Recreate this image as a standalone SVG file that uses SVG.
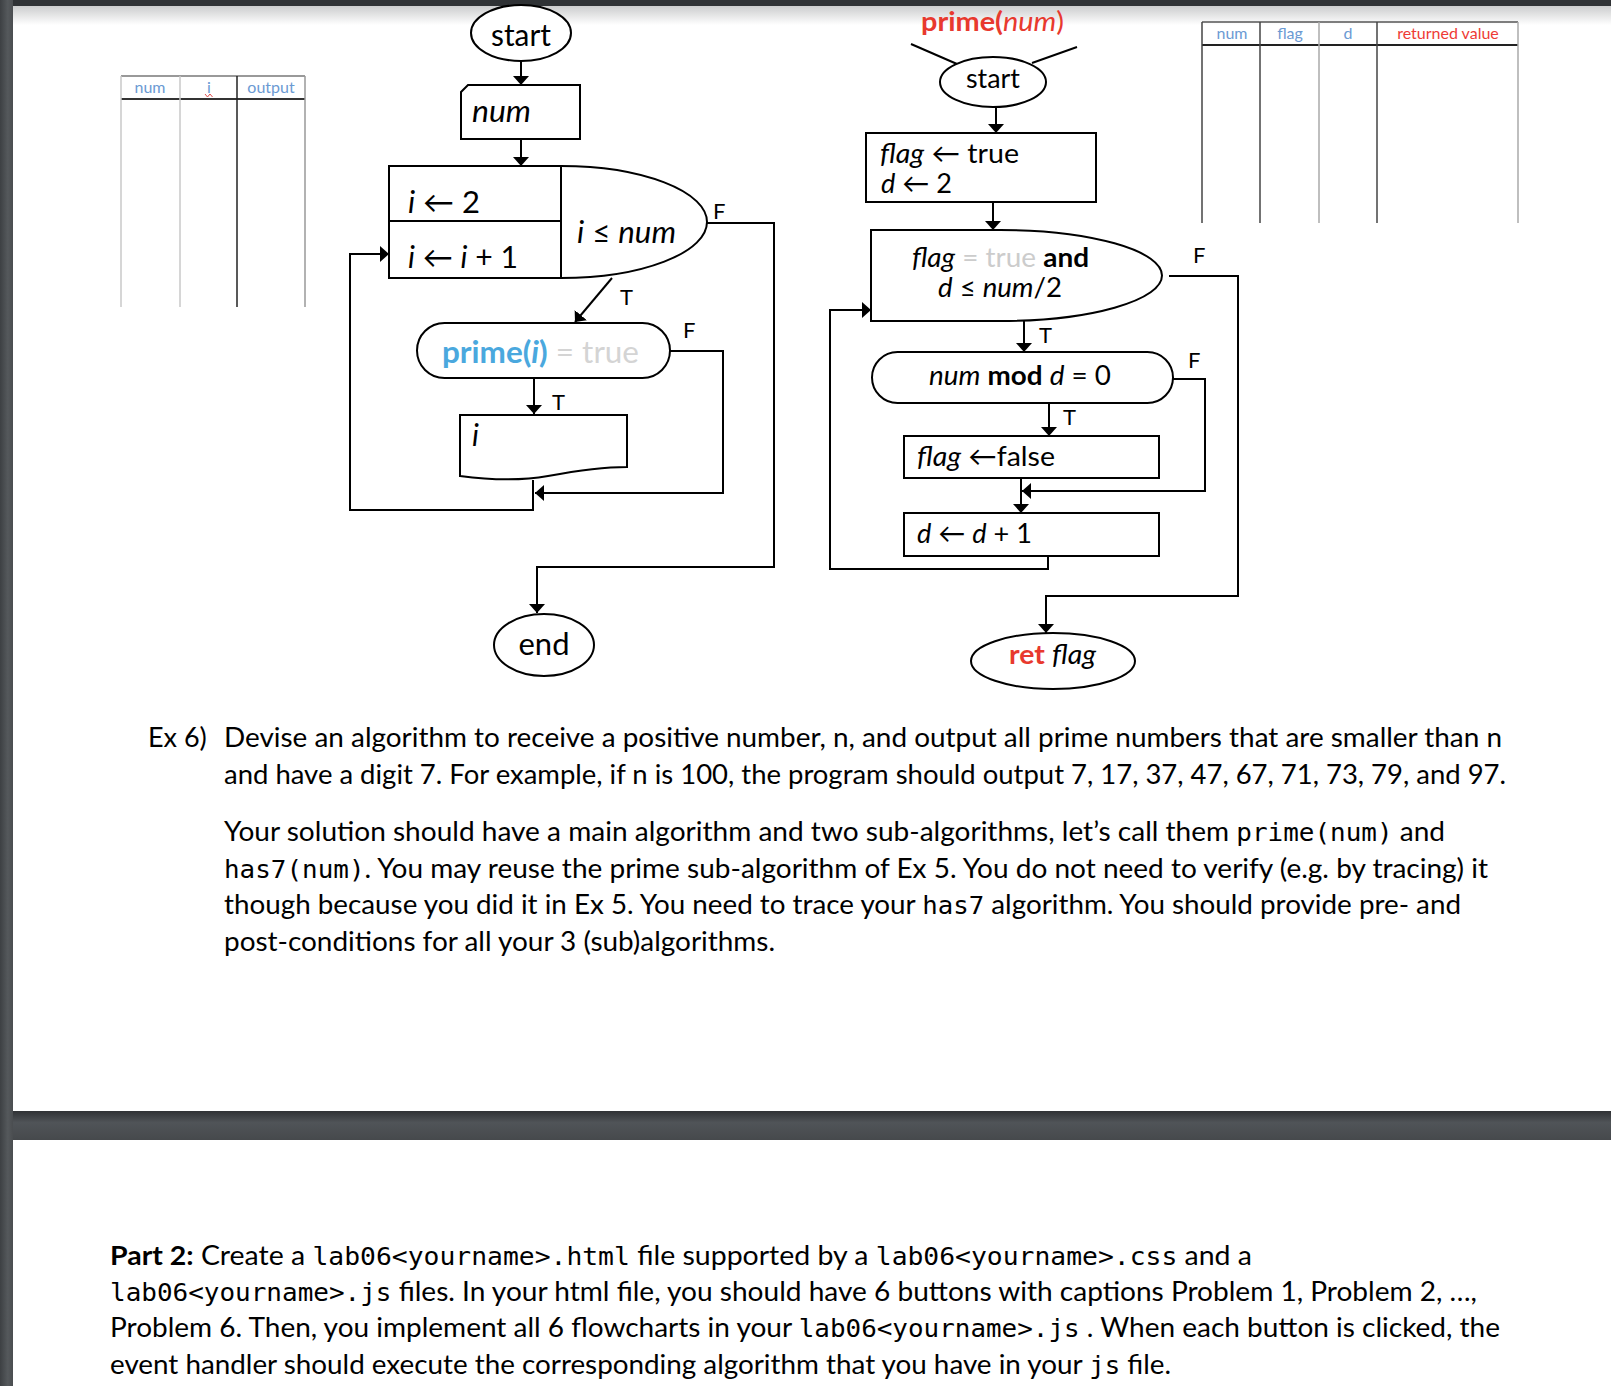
<svg xmlns="http://www.w3.org/2000/svg" width="1611" height="1386" viewBox="0 0 1611 1386">
<style>
.t{font-family:Lato,"Open Sans","DejaVu Sans",sans-serif;fill:#000}
.m{font-family:"DejaVu Sans Mono","Liberation Mono",monospace}
.i{font-style:italic}
.b{font-weight:bold}
.shape{fill:#fff;stroke:#000;stroke-width:2}
.conn{fill:none;stroke:#000;stroke-width:2}
.lbl{font-size:22px}
.hdr{font-size:16px;fill:#6b9ad3;text-anchor:middle}
.body{font-size:27px}
.red{fill:#e8392e}
</style>
<defs>
<marker id="ah" viewBox="0 0 9 16" refX="9" refY="8" markerWidth="9" markerHeight="16" markerUnits="userSpaceOnUse" orient="auto">
<path d="M0,0 L9,8 L0,16 Z" fill="#000"/>
</marker>
<linearGradient id="topsh" x1="0" y1="0" x2="0" y2="1">
<stop offset="0" stop-color="#c9cacb"/><stop offset="1" stop-color="#ffffff"/>
</linearGradient>
<linearGradient id="leftbar" x1="0" y1="0" x2="1" y2="0">
<stop offset="0" stop-color="#3d4043"/><stop offset="0.6" stop-color="#55595c"/><stop offset="1" stop-color="#4a4d50"/>
</linearGradient>
<linearGradient id="sep" x1="0" y1="0" x2="0" y2="1">
<stop offset="0" stop-color="#303235"/><stop offset="0.4" stop-color="#505458"/><stop offset="1" stop-color="#46494c"/>
</linearGradient>
</defs>

<!-- page background -->
<rect x="0" y="0" width="1611" height="1386" fill="#ffffff"/>
<rect x="13" y="5" width="1598" height="20" fill="url(#topsh)"/>
<rect x="0" y="0" width="1611" height="6" fill="#2f3235"/>
<rect x="0" y="1111" width="1611" height="29" fill="url(#sep)"/>
<rect x="0" y="0" width="13" height="1386" fill="url(#leftbar)"/>

<!-- trace table 1 -->
<g id="table1">
<path d="M121,76 H305" stroke="#777" stroke-width="1.5"/>
<path d="M121,99 H305" stroke="#333" stroke-width="2"/>
<path d="M121,76 V307" stroke="#c8c8c8" stroke-width="1.5"/>
<path d="M180,76 V307" stroke="#c8c8c8" stroke-width="1.5"/>
<path d="M237,76 V307" stroke="#222" stroke-width="1.5"/>
<path d="M305,76 V307" stroke="#999" stroke-width="1.5"/>
<text class="t hdr" x="150" y="93">num</text>
<text class="t hdr" x="209" y="93">i</text>
<text class="t hdr" x="271" y="93">output</text>
<path d="M205,94 L207.5,97 L210,94 L212.5,97" fill="none" stroke="#e05050" stroke-width="1"/>
</g>

<!-- trace table 2 -->
<g id="table2">
<path d="M1202,22 H1518" stroke="#555" stroke-width="1.5"/>
<path d="M1202,45 H1518" stroke="#222" stroke-width="2"/>
<path d="M1202,22 V223" stroke="#444" stroke-width="1.5"/>
<path d="M1260,22 V223" stroke="#444" stroke-width="1.5"/>
<path d="M1319,22 V223" stroke="#aaa" stroke-width="1.5"/>
<path d="M1377,22 V223" stroke="#444" stroke-width="1.5"/>
<path d="M1518,22 V223" stroke="#aaa" stroke-width="1.5"/>
<text class="t hdr" x="1232" y="39">num</text>
<text class="t hdr" x="1290" y="39">flag</text>
<text class="t hdr" x="1348" y="39">d</text>
<text class="t hdr" x="1448" y="39" style="fill:#ee3b35">returned value</text>
</g>

<!-- connectors -->
<g id="connectors">
<path class="conn" d="M521,61 V85" marker-end="url(#ah)"/>
<path class="conn" d="M521,139 V166" marker-end="url(#ah)"/>
<path class="conn" d="M612,278 L575,322" marker-end="url(#ah)"/>
<path class="conn" d="M707,223 H774 V567 H537 V613" marker-end="url(#ah)"/>
<path class="conn" d="M670,351 H723 V493 H535" marker-end="url(#ah)"/>
<path class="conn" d="M534,378 V414" marker-end="url(#ah)"/>
<path class="conn" d="M533,480 V510 H350 V254 H389" marker-end="url(#ah)"/>

<path class="conn" d="M911,44 L957,64"/>
<path class="conn" d="M1077,47 L1032,63"/>
<path class="conn" d="M996,107 V133" marker-end="url(#ah)"/>
<path class="conn" d="M993,202 V230" marker-end="url(#ah)"/>
<path class="conn" d="M1169,276 H1238 V596 H1046 V633" marker-end="url(#ah)"/>
<path class="conn" d="M1024,321 V352" marker-end="url(#ah)"/>
<path class="conn" d="M1173,379 H1205 V491 H1022" marker-end="url(#ah)"/>
<path class="conn" d="M1049,403 V436" marker-end="url(#ah)"/>
<path class="conn" d="M1021,478 V513" marker-end="url(#ah)"/>
<path class="conn" d="M1048,556 V569 H830 V310 H871" marker-end="url(#ah)"/>

<text class="t lbl" x="713" y="219">F</text>
<text class="t lbl" x="620" y="305">T</text>
<text class="t lbl" x="683" y="338">F</text>
<text class="t lbl" x="552" y="410">T</text>
<text class="t lbl" x="1193" y="263" font-size="21">F</text>
<text class="t lbl" x="1039" y="343" font-size="21">T</text>
<text class="t lbl" x="1188" y="368" font-size="21">F</text>
<text class="t lbl" x="1063" y="425" font-size="21">T</text>
</g>

<!-- main flowchart -->
<g id="start1">
<ellipse class="shape" cx="521" cy="33" rx="50" ry="28"/>
<text class="t" x="521" y="46" font-size="30" text-anchor="middle" textLength="60" lengthAdjust="spacingAndGlyphs">start</text>
</g>
<g id="input-num">
<path class="shape" d="M461,92 L468,85 H580 V139 H461 Z"/>
<text class="t i" x="472" y="122" font-size="30" textLength="59" lengthAdjust="spacingAndGlyphs">num</text>
</g>
<g id="loop-i">
<path class="shape" d="M389,166 H561 A146,56 0 0 1 561,278 H389 Z"/>
<path class="conn" d="M561,166 V278 M389,221 H561"/>
<text class="t" x="408" y="213" font-size="30" textLength="72" lengthAdjust="spacingAndGlyphs"><tspan class="i">i</tspan> ← 2</text>
<text class="t" x="408" y="268" font-size="30" textLength="110" lengthAdjust="spacingAndGlyphs"><tspan class="i">i</tspan> ← <tspan class="i">i</tspan> + 1</text>
<text class="t" x="577" y="243" font-size="30" textLength="99" lengthAdjust="spacingAndGlyphs"><tspan class="i">i</tspan> ≤ <tspan class="i">num</tspan></text>
</g>
<g id="cond-prime">
<rect class="shape" x="417" y="323" width="253" height="55" rx="27.5" ry="27.5"/>
<text class="t" x="442" y="363" font-size="30" textLength="197" lengthAdjust="spacingAndGlyphs"><tspan class="b" fill="#4aa8de">prime(<tspan class="i">i</tspan>)</tspan><tspan fill="#d4d4d4"> = true</tspan></text>
</g>
<g id="output-i">
<path class="shape" d="M460,415 H627 V467 C600,467 575,471 548,476 C520,481 490,480 460,476 Z"/>
<text class="t i" x="472" y="446" font-size="30">i</text>
</g>
<g id="end1">
<ellipse class="shape" cx="544" cy="645" rx="50" ry="31"/>
<text class="t" x="544" y="655" font-size="30" text-anchor="middle" textLength="51" lengthAdjust="spacingAndGlyphs">end</text>
</g>

<!-- prime sub-algorithm -->
<g id="prime-title">
<text class="t red" x="921" y="31" font-size="27" textLength="143" lengthAdjust="spacingAndGlyphs"><tspan class="b">prime(</tspan><tspan class="i">num</tspan>)</text>
</g>
<g id="start2">
<ellipse class="shape" cx="993" cy="82" rx="53" ry="25"/>
<text class="t" x="993" y="88" font-size="27" text-anchor="middle" textLength="54" lengthAdjust="spacingAndGlyphs">start</text>
</g>
<g id="init">
<rect class="shape" x="866" y="133" width="230" height="69"/>
<text class="t" x="880" y="163" font-size="27" textLength="139" lengthAdjust="spacingAndGlyphs"><tspan class="i">flag</tspan> ← true</text>
<text class="t" x="881" y="193" font-size="27" textLength="71" lengthAdjust="spacingAndGlyphs"><tspan class="i">d</tspan> ← 2</text>
</g>
<g id="cond-loop">
<path class="shape" d="M871,230 H1000 A162,45.5 0 0 1 1000,321 H871 Z"/>
<text class="t" x="912" y="267" font-size="27" textLength="177" lengthAdjust="spacingAndGlyphs"><tspan class="i">flag</tspan><tspan fill="#cccccc"> = true </tspan><tspan class="b">and</tspan></text>
<text class="t" x="938" y="297" font-size="27" textLength="124" lengthAdjust="spacingAndGlyphs"><tspan class="i">d</tspan> ≤ <tspan class="i">num</tspan>/2</text>
</g>
<g id="cond-mod">
<rect class="shape" x="872" y="352" width="301" height="51" rx="25.5" ry="25.5"/>
<text class="t" x="929" y="385" font-size="27" textLength="182" lengthAdjust="spacingAndGlyphs"><tspan class="i">num</tspan> <tspan class="b">mod</tspan> <tspan class="i">d</tspan> = 0</text>
</g>
<g id="set-false">
<rect class="shape" x="904" y="436" width="255" height="42"/>
<text class="t" x="917" y="466" font-size="27" textLength="138" lengthAdjust="spacingAndGlyphs"><tspan class="i">flag</tspan> ←false</text>
</g>
<g id="inc-d">
<rect class="shape" x="904" y="513" width="255" height="43"/>
<text class="t" x="917" y="543" font-size="27" textLength="115" lengthAdjust="spacingAndGlyphs"><tspan class="i">d</tspan> ← <tspan class="i">d</tspan> + 1</text>
</g>
<g id="ret">
<ellipse class="shape" cx="1053" cy="661" rx="82" ry="28"/>
<text class="t" x="1009" y="664" font-size="27" textLength="87" lengthAdjust="spacingAndGlyphs"><tspan class="b" fill="#e8392e">ret</tspan> <tspan class="i">flag</tspan></text>
</g>

<!-- Ex 6 text -->
<g id="ex6">
<text class="t body" x="148" y="747">Ex 6)</text>
<text class="t body" x="224" y="747" textLength="1278" lengthAdjust="spacingAndGlyphs">Devise an algorithm to receive a positive number, n, and output all prime numbers that are smaller than n</text>
<text class="t body" x="224" y="784" textLength="1282" lengthAdjust="spacingAndGlyphs">and have a digit 7. For example, if n is 100, the program should output 7, 17, 37, 47, 67, 71, 73, 79, and 97.</text>
<text class="t body" x="224" y="841" textLength="1221" lengthAdjust="spacingAndGlyphs">Your solution should have a main algorithm and two sub-algorithms, let’s call them <tspan class="m" font-size="25">prime(num)</tspan> and</text>
<text class="t body" x="224" y="878" textLength="1264" lengthAdjust="spacingAndGlyphs"><tspan class="m" font-size="25">has7(num)</tspan>. You may reuse the prime sub-algorithm of Ex 5. You do not need to verify (e.g. by tracing) it</text>
<text class="t body" x="224" y="914" textLength="1237" lengthAdjust="spacingAndGlyphs">though because you did it in Ex 5. You need to trace your <tspan class="m" font-size="25">has7</tspan> algorithm. You should provide pre- and</text>
<text class="t body" x="224" y="951" textLength="551" lengthAdjust="spacingAndGlyphs">post-conditions for all your 3 (sub)algorithms.</text>
</g>

<!-- Part 2 text -->
<g id="part2">
<text class="t body" x="110" y="1265" textLength="1142" lengthAdjust="spacingAndGlyphs"><tspan class="b">Part 2:</tspan> Create a <tspan class="m" font-size="25">lab06&lt;yourname&gt;.html</tspan> file supported by a <tspan class="m" font-size="25">lab06&lt;yourname&gt;.css</tspan> and a</text>
<text class="t body" x="110" y="1301" textLength="1367" lengthAdjust="spacingAndGlyphs"><tspan class="m" font-size="25">lab06&lt;yourname&gt;.js</tspan> files. In your html file, you should have 6 buttons with captions Problem 1, Problem 2, …,</text>
<text class="t body" x="110" y="1337" textLength="1390" lengthAdjust="spacingAndGlyphs">Problem 6. Then, you implement all 6 flowcharts in your <tspan class="m" font-size="25">lab06&lt;yourname&gt;.js</tspan> . When each button is clicked, the</text>
<text class="t body" x="110" y="1374" textLength="1061" lengthAdjust="spacingAndGlyphs">event handler should execute the corresponding algorithm that you have in your <tspan class="m" font-size="25">js</tspan> file.</text>
</g>
</svg>
